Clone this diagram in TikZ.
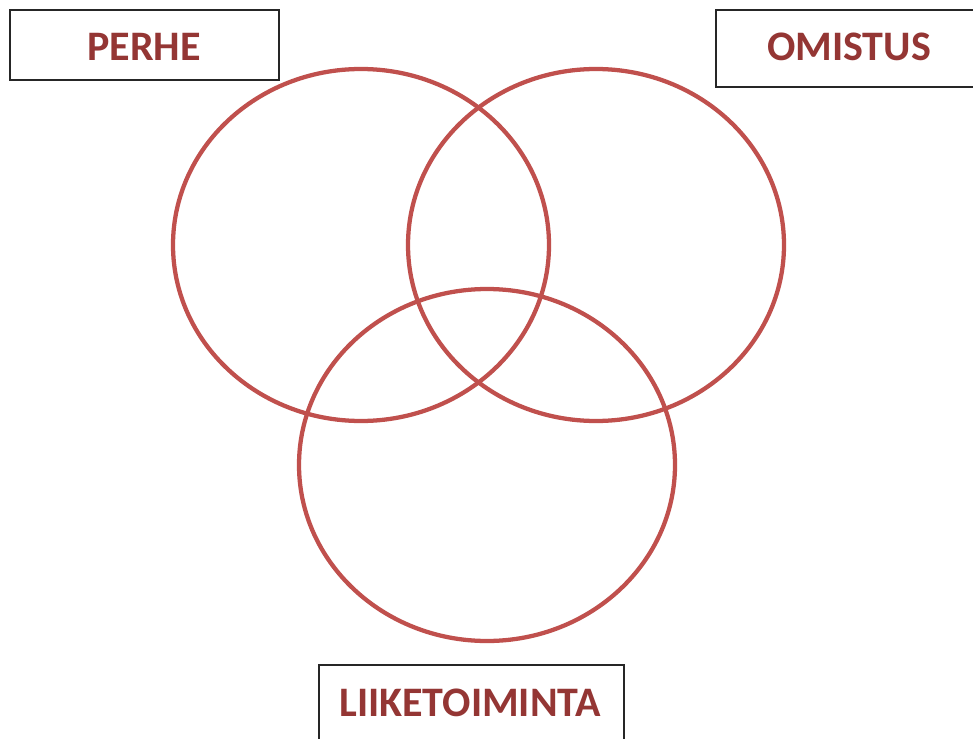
\documentclass[tikz,border=0pt]{standalone}
\usepackage{fontspec}
\setmainfont{Carlito}
\definecolor{ring}{HTML}{C0504D}
\definecolor{label}{HTML}{943634}
\definecolor{frame}{HTML}{262626}
\begin{document}
\begin{tikzpicture}[x=0.75pt,y=-0.75pt,
  ringline/.style={draw=ring,line width=3.2pt},
  labelbox/.style={draw=frame,line width=1.2pt,fill=white,inner sep=0pt},
  labeltext/.style={text=label,font=\fontsize{31.5}{36}\selectfont\bfseries,inner sep=0pt}]
\useasboundingbox (0,0) rectangle (973,738);
\fill[white] (0,0) rectangle (973,738);
\draw[ringline] (361,245) ellipse [x radius=188,y radius=176];
\draw[ringline] (596,245) ellipse [x radius=188,y radius=176];
\draw[ringline] (487,465) ellipse [x radius=188,y radius=176];
\node[labelbox,minimum width=201.75pt,minimum height=52.5pt] (perhebox) at (144.5,45) {};
\node[labelbox,minimum width=198pt,minimum height=57.75pt] (omistusbox) at (848,48.5) {};
\node[labelbox,minimum width=228.75pt,minimum height=67.5pt] (liikebox) at (471.5,710) {};
\node[labeltext] (perhe) at (144,47) {PERHE};
\node[labeltext] (omistus) at (849,47) {OMISTUS};
\node[labeltext] (liike) at (470,703) {LIIKETOIMINTA};
\end{tikzpicture}
\end{document}
